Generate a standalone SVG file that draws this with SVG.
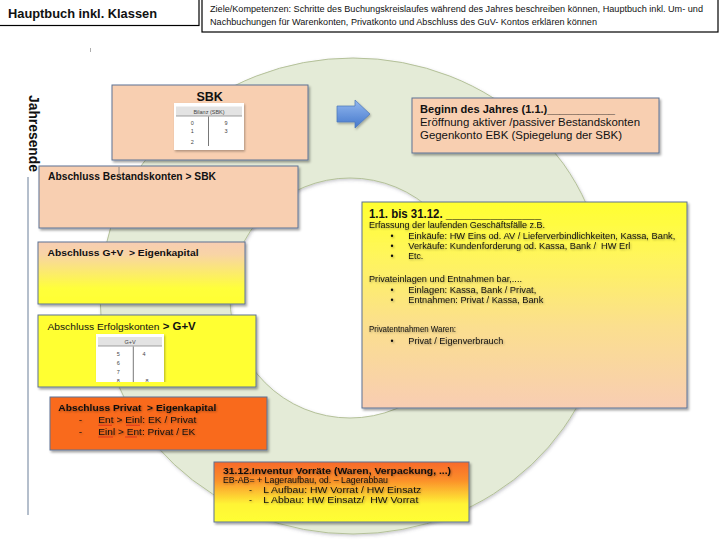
<svg xmlns="http://www.w3.org/2000/svg" width="720" height="540" viewBox="0 0 720 540">
<defs>
<style>
.t{font-family:"Liberation Sans",Arial,sans-serif;fill:#111}
.b{font-weight:bold}
.box{stroke:#5d7393;stroke-width:1;filter:url(#sh)}
.hd{fill:#fff;stroke:#000;stroke-width:1.2}
.card{fill:#fff;filter:url(#sh2)}
.band{fill:#e3e3e3}
.tiny{font-family:"Liberation Sans",Arial,sans-serif;font-size:5.5px;fill:#444}
.ts{filter:url(#tsh)}
.red{stroke:#d42020;stroke-width:0.7}
</style>
<filter id="sh" x="-10%" y="-10%" width="125%" height="130%">
<feDropShadow dx="1.5" dy="2" stdDeviation="1.3" flood-color="#000" flood-opacity="0.35"/>
</filter>
<filter id="sh2" x="-10%" y="-10%" width="125%" height="130%">
<feDropShadow dx="1" dy="1.5" stdDeviation="1" flood-color="#000" flood-opacity="0.3"/>
</filter>
<filter id="tsh" x="-5%" y="-20%" width="110%" height="150%">
<feDropShadow dx="0.8" dy="1" stdDeviation="0.8" flood-color="#000" flood-opacity="0.35"/>
</filter>
<filter id="rsh" x="-5%" y="-5%" width="110%" height="110%">
<feDropShadow dx="1" dy="1.5" stdDeviation="1.5" flood-color="#556" flood-opacity="0.3"/>
</filter>
<linearGradient id="gGV" x1="0" y1="0" x2="0" y2="1">
<stop offset="0" stop-color="#f7cdb2"/>
<stop offset="0.2" stop-color="#f8d4a6"/>
<stop offset="0.75" stop-color="#ffff3a"/>
<stop offset="1" stop-color="#ffff33"/>
</linearGradient>
<linearGradient id="gY" x1="0" y1="0" x2="0" y2="1">
<stop offset="0" stop-color="#ffff30"/>
<stop offset="0.25" stop-color="#fff65a"/>
<stop offset="0.6" stop-color="#fbdf8e"/>
<stop offset="1" stop-color="#f8cdb3"/>
</linearGradient>
<linearGradient id="gB" x1="0" y1="0" x2="0" y2="1">
<stop offset="0" stop-color="#f8692a"/>
<stop offset="0.3" stop-color="#fb8e2a"/>
<stop offset="0.7" stop-color="#fff436"/>
<stop offset="1" stop-color="#ffff33"/>
</linearGradient>
<linearGradient id="gA" x1="0" y1="0" x2="0" y2="1">
<stop offset="0" stop-color="#93b8ef"/>
<stop offset="1" stop-color="#4478cc"/>
</linearGradient>
<clipPath id="cGV"><rect x="90" y="330" width="80" height="52"/></clipPath>
</defs>
<rect width="720" height="540" fill="#fff"/>

<g id="header">
<rect class="hd" x="-1" y="-1" width="200" height="26.5"/>
<text class="t b" x="8" y="18" font-size="12" textLength="149" lengthAdjust="spacingAndGlyphs">Hauptbuch inkl. Klassen</text>
<rect class="hd" x="202" y="-1" width="516" height="33"/>
<text class="t" x="210" y="12" font-size="8.5" textLength="493" lengthAdjust="spacingAndGlyphs">Ziele/Kompetenzen: Schritte des Buchungskreislaufes während des Jahres beschreiben können, Hauptbuch inkl. Um- und</text>
<text class="t" x="210" y="25" font-size="8.5" textLength="387" lengthAdjust="spacingAndGlyphs">Nachbuchungen für Warenkonten, Privatkonto und Abschluss des GuV- Kontos erklären können</text>
</g>

<line x1="90.5" y1="48" x2="90.5" y2="52" stroke="#999" stroke-width="0.8"/>

<g id="ring">
<path d="M100,296 A253,238 0 1,0 606,296 A253,238 0 1,0 100,296 Z M230,298 A120,120 0 1,0 470,298 A120,120 0 1,0 230,298 Z" fill="#e4ebd7" fill-rule="evenodd" stroke="#b4c199" stroke-width="1" filter="url(#rsh)"/>
</g>

<g id="jahresende">
<text class="t b" transform="translate(28.5,95) rotate(90)" font-size="14" textLength="77" lengthAdjust="spacingAndGlyphs">Jahresende</text>
</g>

<g id="connectors">
<line x1="28" y1="177" x2="28" y2="515" stroke="#6a7e99" stroke-width="1"/>
<path d="M337,106 H355 V100 L370,114 L355,128 V122 H337 Z" fill="url(#gA)" stroke="#4a76b8" stroke-width="0.7" filter="url(#sh2)"/>
</g>

<g id="sbk">
<rect class="box" x="112" y="85" width="196" height="75" fill="#f8cfb1"/>
<text class="t b" x="209.7" y="101" font-size="12.5" text-anchor="middle">SBK</text>
<rect class="card" x="174" y="103" width="70" height="47"/>
<rect class="band" x="176" y="106.5" width="66" height="9.5"/>
<line x1="176" y1="116" x2="242" y2="116" stroke="#888" stroke-width="0.8"/>
<line x1="208.5" y1="116.5" x2="208.5" y2="146" stroke="#555" stroke-width="0.8"/>
<text class="tiny" x="209" y="113.5" text-anchor="middle" font-size="5">Bilanz (SBK)</text>
<text class="tiny" x="192.3" y="124.5" text-anchor="middle">0</text>
<text class="tiny" x="192.3" y="133" text-anchor="middle">1</text>
<text class="tiny" x="192.3" y="143.5" text-anchor="middle">2</text>
<text class="tiny" x="226" y="124.5" text-anchor="middle">9</text>
<text class="tiny" x="226" y="133" text-anchor="middle">3</text>
</g>

<g id="abschluss-bestandskonten">
<rect class="box" x="39" y="166" width="259" height="62" fill="#f8cfb1"/>
<text class="t b" x="48" y="179.5" font-size="10" textLength="168" lengthAdjust="spacingAndGlyphs">Abschluss Bestandskonten &gt; SBK</text>
<line x1="119" y1="167" x2="119" y2="176" stroke="#777" stroke-width="0.8"/>
</g>

<g id="abschluss-guv">
<rect class="box" x="38" y="242" width="207" height="62" fill="url(#gGV)"/>
<text class="t b" x="47.5" y="255.5" font-size="9.5" textLength="151" lengthAdjust="spacingAndGlyphs" xml:space="preserve">Abschluss G+V  &gt; Eigenkapital</text>
</g>

<g id="abschluss-erfolgskonten">
<rect class="box" x="38" y="315" width="218" height="72" fill="#ffff33"/>
<text class="t" x="47.5" y="329.5" font-size="9.5" textLength="112" lengthAdjust="spacingAndGlyphs">Abschluss Erfolgskonten</text>
<text class="t b" x="162.7" y="329.5" font-size="11" textLength="33" lengthAdjust="spacingAndGlyphs">&gt; G+V</text>
<g clip-path="url(#cGV)">
<rect class="card" x="96" y="334" width="68" height="52"/>
<rect class="band" x="98" y="337" width="64" height="9"/>
<line x1="98" y1="346" x2="162" y2="346" stroke="#888" stroke-width="0.8"/>
<line x1="133.3" y1="346.5" x2="133.3" y2="384" stroke="#555" stroke-width="0.8"/>
<text class="tiny" x="130" y="343.5" text-anchor="middle" font-size="5">G+V</text>
<text class="tiny" x="118.3" y="355.5" text-anchor="middle">5</text>
<text class="tiny" x="118.3" y="364.5" text-anchor="middle">6</text>
<text class="tiny" x="118.3" y="373.5" text-anchor="middle">7</text>
<text class="tiny" x="118.3" y="383" text-anchor="middle">8</text>
<text class="tiny" x="144" y="355.5" text-anchor="middle">4</text>
<text class="tiny" x="147" y="383" text-anchor="middle">8</text>
</g>
</g>

<g id="abschluss-privat">
<rect class="box" x="50" y="397" width="217" height="53" fill="#f96a1e"/>
<g class="ts">
<text class="t b" x="58.3" y="410.7" font-size="9.5" textLength="158" lengthAdjust="spacingAndGlyphs" xml:space="preserve">Abschluss Privat  &gt; Eigenkapital</text>
<text class="t" x="79" y="423.3" font-size="9.5">-</text>
<text class="t" x="98.3" y="423.3" font-size="9.5" textLength="98" lengthAdjust="spacingAndGlyphs">Ent &gt; Einl: EK / Privat</text>
<text class="t" x="79" y="435" font-size="9.5">-</text>
<text class="t" x="98.3" y="435" font-size="9.5" textLength="97" lengthAdjust="spacingAndGlyphs">Einl &gt; Ent: Privat / EK</text>
</g>
<line class="red" x1="98.3" y1="425.3" x2="112" y2="425.3"/>
<line class="red" x1="126" y1="425.3" x2="140" y2="425.3"/>
<line class="red" x1="98.3" y1="437" x2="113" y2="437"/>
<line class="red" x1="125" y1="437" x2="137" y2="437"/>
</g>

<g id="beginn-des-jahres">
<rect class="box" x="412" y="98" width="247" height="55" fill="#f8cfb1"/>
<text class="t b" x="420" y="113" font-size="11" textLength="195" lengthAdjust="spacingAndGlyphs">Beginn des Jahres (1.1.)___________</text>
<text class="t" x="420" y="125.7" font-size="11" textLength="220" lengthAdjust="spacingAndGlyphs">Eröffnung aktiver /passiver Bestandskonten</text>
<text class="t" x="420" y="138.5" font-size="11" textLength="202" lengthAdjust="spacingAndGlyphs">Gegenkonto EBK (Spiegelung der SBK)</text>
</g>

<g id="laufendes-jahr">
<rect class="box" x="362" y="202" width="325" height="206" fill="url(#gY)"/>
<text class="t b" x="369" y="217.5" font-size="12" textLength="172" lengthAdjust="spacingAndGlyphs">1.1. bis 31.12. _______________</text>
<g class="ts">
<text class="t" x="369" y="227.5" font-size="8.6" textLength="176" lengthAdjust="spacingAndGlyphs">Erfassung der laufenden Geschäftsfälle z.B.</text>
<text class="t" x="390.5" y="238.5" font-size="8.6">•</text>
<text class="t" x="408.3" y="238.5" font-size="8.6" textLength="267" lengthAdjust="spacingAndGlyphs">Einkäufe: HW Eins od. AV / Lieferverbindlichkeiten, Kassa, Bank,</text>
<text class="t" x="390.5" y="248.5" font-size="8.6">•</text>
<text class="t" x="408.3" y="248.5" font-size="8.6" textLength="222" lengthAdjust="spacingAndGlyphs" xml:space="preserve">Verkäufe: Kundenforderung od. Kassa, Bank /  HW Erl</text>
<text class="t" x="390.5" y="258.5" font-size="8.6">•</text>
<text class="t" x="408.3" y="258.5" font-size="8.6" textLength="15" lengthAdjust="spacingAndGlyphs">Etc.</text>
<text class="t" x="369" y="281.5" font-size="8.6" textLength="153" lengthAdjust="spacingAndGlyphs">Privateinlagen und Entnahmen bar,....</text>
<text class="t" x="390.5" y="292.5" font-size="8.6">•</text>
<text class="t" x="408.3" y="292.5" font-size="8.6" textLength="128" lengthAdjust="spacingAndGlyphs">Einlagen: Kassa, Bank / Privat,</text>
<text class="t" x="390.5" y="302.5" font-size="8.6">•</text>
<text class="t" x="408.3" y="302.5" font-size="8.6" textLength="135" lengthAdjust="spacingAndGlyphs">Entnahmen: Privat / Kassa, Bank</text>
<text class="t" x="369" y="332" font-size="8.6" textLength="87" lengthAdjust="spacingAndGlyphs">Privatentnahmen Waren:</text>
<text class="t" x="390.5" y="343.5" font-size="8.6">•</text>
<text class="t" x="408.3" y="343.5" font-size="8.6" textLength="95" lengthAdjust="spacingAndGlyphs">Privat / Eigenverbrauch</text>
</g>
</g>

<g id="inventur">
<rect class="box" x="214" y="462" width="255" height="60" fill="url(#gB)"/>
<g class="ts">
<text class="t b" x="223" y="473.5" font-size="9" textLength="228" lengthAdjust="spacingAndGlyphs">31.12.Inventur Vorräte (Waren, Verpackung, ...)</text>
<text class="t" x="223" y="483.2" font-size="9" textLength="165" lengthAdjust="spacingAndGlyphs">EB-AB= + Lageraufbau, od. – Lagerabbau</text>
<text class="t" x="249" y="493" font-size="9">-</text>
<text class="t" x="263.3" y="493" font-size="9" textLength="158" lengthAdjust="spacingAndGlyphs">L Aufbau: HW Vorrat / HW Einsatz</text>
<text class="t" x="249" y="502.6" font-size="9">-</text>
<text class="t" x="263.3" y="502.6" font-size="9" textLength="155" lengthAdjust="spacingAndGlyphs" xml:space="preserve">L Abbau: HW Einsatz/  HW Vorrat</text>
</g>
</g>
</svg>
